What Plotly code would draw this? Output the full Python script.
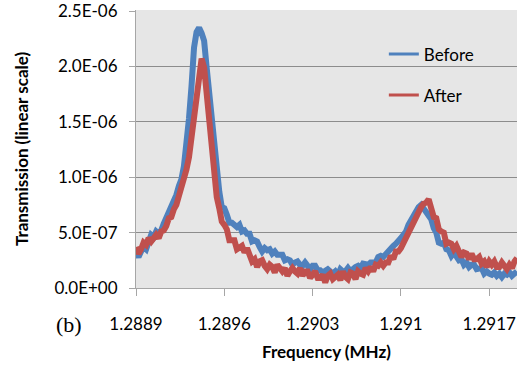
import plotly.graph_objects as go

# Frequency sweep (MHz)
freq = [
    1.28890, 1.28892, 1.28894, 1.28896, 1.28898, 1.28900, 1.28902, 1.28904, 1.28906, 1.28908,
    1.28910, 1.28912, 1.28914, 1.28916, 1.28918, 1.28920, 1.28922, 1.28924, 1.28926, 1.28928,
    1.28930, 1.28932, 1.28934, 1.28936, 1.28938, 1.28940, 1.28942, 1.28944, 1.28946, 1.28948,
    1.28950, 1.28952, 1.28954, 1.28956, 1.28958, 1.28960, 1.28962, 1.28964, 1.28966, 1.28968,
    1.28970, 1.28972, 1.28974, 1.28976, 1.28978, 1.28980, 1.28982, 1.28984, 1.28986, 1.28988,
    1.28990, 1.28992, 1.28994, 1.28996, 1.28998, 1.29000, 1.29002, 1.29004, 1.29006, 1.29008,
    1.29010, 1.29012, 1.29014, 1.29016, 1.29018, 1.29020, 1.29022, 1.29024, 1.29026, 1.29028,
    1.29030, 1.29032, 1.29034, 1.29036, 1.29038, 1.29040, 1.29042, 1.29044, 1.29046, 1.29048,
    1.29050, 1.29052, 1.29054, 1.29056, 1.29058, 1.29060, 1.29062, 1.29064, 1.29066, 1.29068,
    1.29070, 1.29072, 1.29074, 1.29076, 1.29078, 1.29080, 1.29082, 1.29084, 1.29086, 1.29088,
    1.29090, 1.29092, 1.29094, 1.29096, 1.29098, 1.29100, 1.29102, 1.29104, 1.29106, 1.29108,
    1.29110, 1.29112, 1.29114, 1.29116, 1.29118, 1.29120, 1.29122, 1.29124, 1.29126, 1.29128,
    1.29130, 1.29132, 1.29134, 1.29136, 1.29138, 1.29140, 1.29142, 1.29144, 1.29146, 1.29148,
    1.29150, 1.29152, 1.29154, 1.29156, 1.29158, 1.29160, 1.29162, 1.29164, 1.29166, 1.29168,
    1.29170, 1.29172, 1.29174, 1.29176, 1.29178, 1.29180, 1.29182, 1.29184, 1.29186, 1.29188,
    1.29190, 1.29192,
]

# Transmission, in units of 1e-7
before_e7 = [
    3.2, 2.8, 3.3, 3.7, 3.5, 4.4, 4.8, 4.6, 5.1, 4.9,
    5.2, 5.8, 6.3, 7.1, 7.4, 8.0, 8.4, 9.2, 9.8, 11.0,
    12.8, 15.3, 18.2, 21.7, 23.1, 23.5, 23.0, 22.3, 19.9, 17.6,
    14.9, 12.3, 10.1, 8.7, 7.3, 7.2, 6.6, 5.9, 5.9, 5.7,
    5.5, 5.7, 5.1, 5.2, 4.9, 4.9, 4.2, 4.3, 4.2, 3.7,
    3.3, 3.6, 3.4, 3.5, 3.1, 3.3, 3.0, 3.0, 3.0, 2.5,
    2.6, 2.5, 2.1, 2.3, 2.4, 2.1, 2.0, 2.3, 2.0, 1.7,
    2.0, 2.0, 1.6, 1.6, 1.4, 1.6, 1.7, 1.5, 1.3, 1.5,
    1.2, 1.7, 1.5, 1.5, 1.8, 1.5, 1.8, 1.9, 2.0, 1.8,
    2.2, 2.1, 2.1, 2.3, 2.3, 2.3, 2.8, 2.9, 2.8, 3.1,
    3.4, 3.5, 3.8, 4.0, 4.2, 4.5, 4.8, 5.1, 5.7, 6.1,
    6.7, 6.9, 7.3, 7.5, 7.2, 6.8, 6.6, 6.2, 5.4, 5.0,
    4.1, 4.0, 4.1, 3.5, 3.4, 2.9, 3.2, 2.8, 2.5, 2.6,
    2.1, 2.3, 1.9, 2.1, 2.1, 1.7, 1.7, 1.8, 1.3, 1.5,
    1.3, 1.2, 1.4, 1.1, 1.3, 1.0, 1.3, 1.2, 1.4, 1.1,
    1.3, 1.5,
]

after_e7 = [
    3.7, 3.1, 3.5, 4.1, 3.9, 4.5, 4.2, 4.6, 4.8, 4.5,
    5.1, 5.2, 5.6, 6.3, 6.4, 7.1, 7.5, 8.3, 9.1, 9.6,
    10.7, 11.8, 13.5, 15.1, 17.8, 19.3, 20.7, 19.9, 17.5, 14.8,
    12.2, 10.3, 8.2, 7.2, 6.0, 5.7, 5.3, 4.3, 4.3, 4.3,
    3.5, 3.7, 3.8, 3.2, 3.6, 3.0, 2.4, 2.6, 1.9, 2.4,
    2.5, 2.0, 1.7, 2.1, 1.9, 1.4, 2.1, 1.8, 1.5, 1.8,
    1.1, 1.5, 1.8, 1.5, 1.3, 1.8, 1.1, 1.5, 1.5, 0.9,
    1.2, 1.5, 0.9, 0.9, 1.2, 0.5, 1.1, 1.3, 0.8, 1.0,
    1.2, 0.7, 1.5, 1.0, 0.8, 1.4, 1.3, 0.8, 1.5, 1.3,
    1.2, 1.8, 1.5, 1.9, 1.5, 2.1, 2.0, 2.3, 2.0, 2.3,
    2.3, 2.9, 2.6, 3.3, 3.3, 3.6, 4.1, 4.4, 5.0, 5.4,
    6.0, 6.6, 7.1, 7.3, 7.6, 7.7, 8.0, 7.3, 6.4, 6.3,
    5.3, 5.1, 5.0, 4.0, 4.1, 4.0, 3.5, 3.8, 3.3, 2.8,
    3.2, 3.1, 2.6, 3.1, 2.6, 2.6, 2.8, 2.2, 2.4, 1.9,
    2.4, 2.1, 2.4, 1.9, 1.9, 2.3, 2.0, 1.7, 2.1, 1.8,
    2.4, 2.7,
]

series_names = ["Before", "After"]
series_colors = ["#4F81BD", "#C0504D"]

y_tick_vals = [0.0, 5.0e-7, 1.0e-6, 1.5e-6, 2.0e-6, 2.5e-6]
y_tick_text = ["0.0E+00", "5.0E-07", "1.0E-06", "1.5E-06", "2.0E-06", "2.5E-06"]
x_tick_vals = [1.2889, 1.2896, 1.2903, 1.2910, 1.2917]
x_tick_text = ["1.2889", "1.2896", "1.2903", "1.291", "1.2917"]

before = [v * 1e-7 for v in before_e7]
after = [v * 1e-7 for v in after_e7]

FONT = "Lato, 'Open Sans', sans-serif"

fig = go.Figure()
for name, ys, col in zip(series_names, [before, after], series_colors):
    fig.add_trace(go.Scatter(x=freq, y=ys, mode="lines", name=name,
                             line=dict(color=col, width=6), showlegend=False,
                             hoverinfo="skip"))
for i, (name, col) in enumerate(zip(series_names, series_colors)):
    fig.add_trace(go.Scatter(x=[None], y=[None], mode="lines", name=name,
                             line=dict(color=col, width=3), legendgroup=f"g{i}",
                             showlegend=True))

fig.update_layout(
    width=530, height=368,
    margin=dict(l=136, r=13, t=10, b=80, autoexpand=False),
    paper_bgcolor="white",
    plot_bgcolor="#E6E6E6",
    font=dict(family=FONT, size=17, color="#000000"),
    legend=dict(x=0.6505, y=0.905, xanchor="left", yanchor="top",
                bgcolor="rgba(0,0,0,0)", font=dict(size=17),
                traceorder="grouped", tracegroupgap=16,
                itemwidth=30),
    xaxis=dict(
        range=[1.2889, 1.29192], automargin=False,
        tickvals=x_tick_vals, ticktext=x_tick_text,
        showgrid=False, zeroline=False,
        showline=True, linecolor="#A6A6A6", linewidth=1,
        ticks="outside", ticklen=7, tickcolor="#A6A6A6",
        ticklabelstandoff=14, ticklabeloverflow="allow",
        title=dict(text="<b>Frequency (MHz)</b>", font=dict(size=17), standoff=12),
    ),
    yaxis=dict(
        range=[0, 2.509e-6], automargin=False,
        tickvals=y_tick_vals, ticktext=y_tick_text,
        showgrid=True, gridcolor="#8C8C8C", gridwidth=1,
        zeroline=False,
        showline=True, linecolor="#A6A6A6", linewidth=1,
        ticks="outside", ticklen=6, tickcolor="#A6A6A6",
        ticklabelstandoff=8, ticklabeloverflow="allow",
        title=dict(text="<b>Transmission (linear scale)</b>", font=dict(size=17), standoff=21),
    ),
    annotations=[dict(text="(b)", xref="paper", yref="paper", x=-0.176, y=-0.13,
                      xanchor="center", yanchor="middle", showarrow=False,
                      font=dict(family="'Liberation Serif', 'DejaVu Serif', serif", size=22))],
)

fig.write_html("out.html", config={"displayModeBar": False},
               post_script="document.body.style.margin='0';")
